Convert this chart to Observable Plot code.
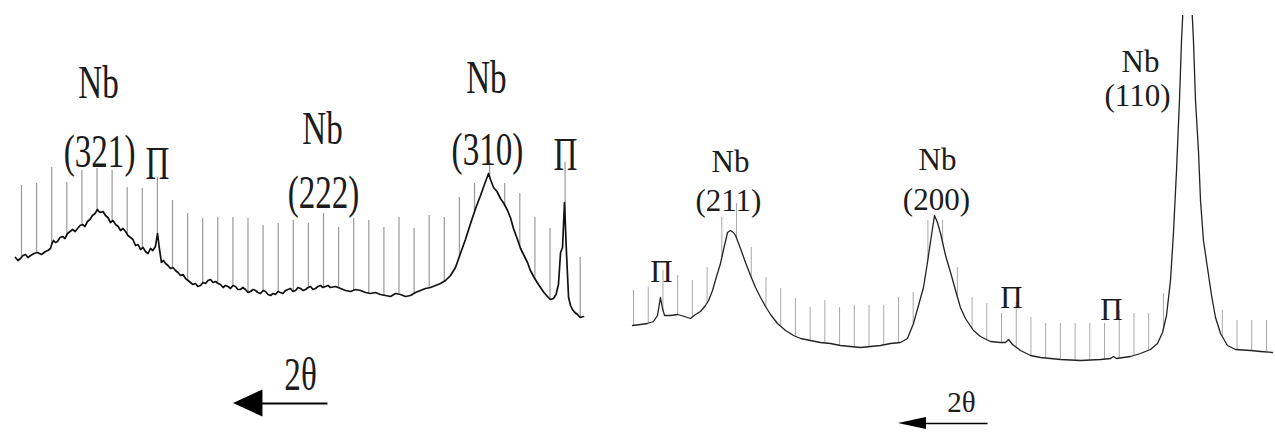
<!DOCTYPE html>
<html><head><meta charset="utf-8">
<script src="https://cdn.jsdelivr.net/npm/d3@7"></script>
<script src="https://cdn.jsdelivr.net/npm/@observablehq/plot@0.6"></script>
<style>
html,body{margin:0;padding:0;background:#fff;}
#wrap{display:flex;width:1275px;height:432px;overflow:hidden;background:#fff;}
#wrap svg{display:block;background:#fff;}
</style></head><body><div id="wrap"></div>
<script>
// ---------- LEFT PANEL (x = angle-marker index, I = intensity, arb. units) ----------
const leftX = [-0.40,-0.23,-0.07,0.10,0.26,0.43,0.60,0.83,1.06,1.32,1.59,1.75,1.92,2.02,2.12,2.25,2.38,2.55,2.72,2.88,3.05,3.22,3.38,3.55,3.71,3.88,4.04,4.20,4.37,4.53,4.70,4.87,5.03,5.13,5.23,5.40,5.56,5.72,5.89,6.06,6.23,6.40,6.56,6.72,6.89,7.05,7.22,7.38,7.55,7.72,7.88,8.05,8.21,8.38,8.54,8.70,8.87,9.01,9.14,9.27,9.40,9.54,9.70,9.87,10.03,10.20,10.36,10.53,10.70,10.86,11.03,11.19,11.35,11.52,11.68,11.85,12.02,12.19,12.35,12.52,12.68,12.85,13.02,13.18,13.35,13.51,13.68,13.84,14.00,14.17,14.33,14.50,14.66,14.83,15.00,15.17,15.33,15.50,15.66,15.83,16.00,16.16,16.33,16.49,16.66,16.82,16.98,17.15,17.31,17.48,17.65,17.81,17.98,18.15,18.31,18.48,18.65,18.81,18.98,19.14,19.30,19.47,19.63,19.80,19.96,20.13,20.30,20.46,20.80,21.13,21.46,21.79,22.12,22.45,22.78,23.11,23.44,23.77,24.10,24.44,24.77,25.10,25.43,25.76,26.09,26.42,26.75,27.09,27.42,27.75,28.08,28.41,28.74,29.07,29.40,29.74,30.07,30.40,30.73,30.93,31.06,31.26,31.49,31.72,31.95,32.19,32.40,32.58,32.80,33.05,33.28,33.51,33.70,33.91,34.15,34.37,34.60,34.83,35.03,35.23,35.40,35.56,35.70,35.83,35.96,36.09,36.23,36.36,36.49,36.65,36.82,37.00,37.22];
const leftI = [73,70,72,75,76,73,75,77,78,76,79,80,82,87,90,88,89,93,94,92,97,99,101,99,102,105,106,104,109,111,115,117,121,119,118,119,115,113,108,110,106,104,100,102,99,95,93,91,85,86,81,83,79,77,82,80,84,97,81,68,70,67,65,62,63,60,58,55,56,52,50,48,46,47,44,45,48,47,50,51,48,49,47,46,43,45,44,42,45,44,41,41,43,41,38,39,41,40,38,37,40,39,36,35,37,36,39,38,37,40,41,42,39,40,43,42,40,41,43,44,41,42,44,45,43,44,45,43,44,42,40,39,41,40,38,37,38,36,35,34,37,36,34,35,38,40,42,43,45,47,50,55,63,77,91,107,122,135,149,157,151,143,139,132,127,120,112,102,93,82,75,68,60,54,48,43,38,34,31,32,36,46,78,83,128,78,33,25,21,18,16,13,14];
// top of each angle marker line, marker index 0..37
const leftMarkTop = [145,147,163,148,160,162,160,143,142,153,130,117,112,113,113,112,105,107,110,107,117,103,112,110,103,113,102,115,113,133,147,170,147,137,113,102,168,73];
const leftLabels = ["Nb","(321)","П","Nb","(222)","Nb","(310)","П","2θ"];
const leftLabelX = [5.10,5.17,9.01,19.93,20.0,30.79,30.86,36.03,18.48];
const leftLabelI = [247,178,166,201,137,252,180,175,-45];
// direction arrow (2θ increases to the left)
const leftArrow = {tail: 20.26, tip: 14.04, level: -73, headLen: 1.95, headHalf: 13.5};

// ---------- RIGHT PANEL ----------
const rightX = [-0.07,0.48,0.95,1.36,1.63,1.83,1.97,2.11,2.51,2.99,3.46,3.87,4.21,4.55,4.89,5.10,5.37,5.64,5.91,6.18,6.39,6.59,6.79,6.93,7.27,7.61,7.95,8.29,8.63,8.97,9.31,9.78,10.33,10.87,11.35,12.02,12.70,13.38,14.06,14.74,15.42,16.10,16.78,17.46,18.14,18.61,19.02,19.36,19.70,19.97,20.24,20.45,20.65,20.86,21.20,21.54,21.88,22.21,22.55,23.10,23.57,24.25,24.93,25.27,25.48,25.75,26.29,26.97,27.65,29.01,30.37,31.73,32.41,32.61,32.81,33.76,34.44,35.12,35.60,35.94,36.21,36.48,36.68,36.89,37.09,37.23,37.36,37.64,37.91,38.04,38.18,38.38,38.52,38.72,38.99,39.27,39.54,39.88,40.35,40.90,41.92,42.60,43.41];
const rightI = [45,46,47,49,55,73,62,55,55,56,54,52,56,59,65,70,80,94,107,125,138,140,138,135,122,108,95,83,73,64,56,47,40,35,32,30,28,27,25,24,23,24,25,27,28,32,47,65,83,108,135,155,148,137,115,98,80,63,52,40,34,29,28,28,31,26,20,15,13,11,10,11,12,14,12,14,17,21,27,38,55,90,137,200,270,330,370,430,370,330,270,220,170,130,103,75,53,37,25,21,20,19,18];
const rightMarkTop = [80,83,100,95,90,103,153,167,123,93,82,72,63,70,63,65,65,65,73,78,150,150,103,73,67,57,67,53,47,47,47,47,47,60,57,57,77,null,null,null,60,50,50,50];
const rightLabels = ["Nb","(211)","П","Nb","(200)","П","П","Nb","(110)","2θ"];
const rightLabelX = [6.59,6.45,1.90,20.65,20.58,25.68,32.47,34.44,34.24,22.28];
const rightLabelI = [208,169,98,210,170,72,60,308,274,-32];
const rightArrow = {tail: 24.05, tip: 18.0, level: -53, headLen: 1.9, headHalf: 6};

function panel(cfg) {
  const curve = cfg.xs.map((x, i) => ({x, I: cfg.is[i]}));
  const interp = d3.scaleLinear().domain(cfg.xs).range(cfg.is);
  const marks = cfg.tops.map((t, k) => ({k, top: t, bottom: interp(k)})).filter(d => d.top != null);
  const labels = cfg.labels.map((t, i) => ({t, x: cfg.lx[i], y: cfg.ly[i], isTheta: t === "2θ"}));
  const a = cfg.arrow;
  const head = [
    {x: a.tip, lo: a.level, hi: a.level},
    {x: a.tip + a.headLen, lo: a.level - a.headHalf, hi: a.level + a.headHalf}
  ];
  return Plot.plot({
    width: cfg.width, height: 432,
    marginLeft: 0, marginRight: 0, marginBottom: 0, marginTop: cfg.marginTop,
    x: {domain: cfg.xDomain, range: cfg.xRange, axis: null},
    y: {domain: cfg.yDomain, range: cfg.yRange, axis: null},
    style: {background: "#fff", fontFamily: "Liberation Serif"},
    marks: [
      Plot.ruleX(marks, {x: "k", y1: "bottom", y2: "top", stroke: cfg.gridColor, strokeWidth: cfg.gridWidth}),
      Plot.line(curve, {x: "x", y: "I", stroke: cfg.lineColor, strokeWidth: cfg.lineWidth, clip: true}),
      Plot.text(labels.filter(d => !d.isTheta), {x: "x", y: "y", text: "t", fontSize: cfg.fontSize, fontFamily: "Liberation Serif", fill: "#1c1c1c"}),
      Plot.text(labels.filter(d => d.isTheta), {x: "x", y: "y", text: "t", fontSize: cfg.thetaSize, fontFamily: "Liberation Serif", fill: "#1c1c1c"}),
      Plot.link([a], {x1: "tail", x2: d => d.tip + d.headLen * 0.5, y1: "level", y2: "level", stroke: "#000", strokeWidth: cfg.arrowWidth}),
      Plot.areaY(head, {x: "x", y1: "lo", y2: "hi", fill: "#000"})
    ]
  });
}

const wrap = document.getElementById("wrap");
const left = panel({
  width: 620, marginTop: 0,
  xs: leftX, is: leftI, tops: leftMarkTop,
  labels: leftLabels, lx: leftLabelX, ly: leftLabelI, arrow: leftArrow,
  xDomain: [0, 37], xRange: [21, 579.7], yDomain: [0, 330], yRange: [330, 0],
  gridColor: "#9a9a9a", gridWidth: 1.2, lineColor: "#111", lineWidth: 1.7,
  fontSize: 46, thetaSize: 46, arrowWidth: 1.8
});
const right = panel({
  width: 655, marginTop: 15,
  xs: rightX, is: rightI, tops: rightMarkTop,
  labels: rightLabels, lx: rightLabelX, ly: rightLabelI, arrow: rightArrow,
  xDomain: [0, 43], xRange: [13, 13 + 14.72 * 43], yDomain: [0, 370], yRange: [370, 0],
  gridColor: "#a8a8a8", gridWidth: 1, lineColor: "#222", lineWidth: 1.3,
  fontSize: 31, thetaSize: 29, arrowWidth: 1.4
});
wrap.appendChild(left);
wrap.appendChild(right);
// the left panel's lettering is a narrow (condensed) serif: squeeze each label about its centre
d3.select(left).selectAll("text").each(function () {
  const b = this.getBBox();
  const cx = b.x + b.width / 2;
  const t = this.getAttribute("transform") || "";
  this.setAttribute("transform", `${t} translate(${cx},0) scale(0.72,1) translate(${-cx},0)`);
});
</script></body></html>
